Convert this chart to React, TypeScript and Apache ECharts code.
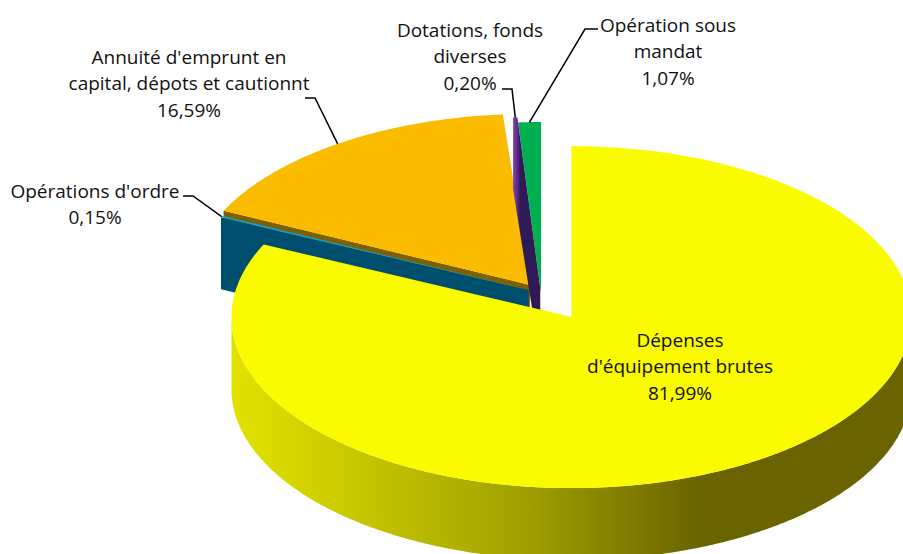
import React, { useEffect, useRef } from "react";
import * as echarts from "echarts";

// Data
const categories = [
  "Dépenses\nd'équipement brutes",
  "Opérations d'ordre",
  "Annuité d'emprunt en\ncapital, dépots et cautionnt",
  "Dotations, fonds\ndiverses",
  "Opération sous\nmandat",
];
const shares = [81.99, 0.15, 16.59, 0.2, 1.07];

// Styling and layout, one entry per slice
const explode = [0.167, 0.04, 0.0575, 0.03, 0];
const topColors = ["#fafa00", "#00a8e0", "#fbbc00", null, "#00b050"];
const labelCenters = [
  [680, 366],
  [95, 204],
  [189, 83],
  [470, 56],
  [668, 51],
];
const leaderStarts = [
  null,
  [[183, 196], [193, 196]],
  [[305, 98], [315, 98]],
  [[502, 89], [512, 89]],
  [[598, 29], [585, 29]],
];

const CX = 541;
const CY = 293;
const RX = 340;
const RY = 171;
const DEPTH = 72;
const FONT = "'Open Sans', Lato, sans-serif";
const FONT_SIZE = 19;
const LINE_HEIGHT = 26.5;

const rad = (d: number) => (d * Math.PI) / 180;

function renderSlice(params: any, api: any) {
  const i = params.dataIndex;
  const total = shares.reduce((a, b) => a + b, 0);
  const before = shares.slice(0, i).reduce((a, b) => a + b, 0);
  const start = (before / total) * 360;
  const end = start + (api.value(0) / total) * 360;
  const mid = (start + end) / 2;
  const cx = CX + Math.sin(rad(mid)) * explode[i] * RX;
  const cy = CY - Math.cos(rad(mid)) * explode[i] * RY;
  const rim = (a: number, dy = 0) => [cx + RX * Math.sin(rad(a)), cy - RY * Math.cos(rad(a)) + dy];
  const arc = (a: number, b: number, dy = 0) => {
    const pts: number[][] = [];
    const n = Math.max(2, Math.ceil(Math.abs(b - a) * 2));
    for (let k = 0; k <= n; k++) pts.push(rim(a + ((b - a) * k) / n, dy));
    return pts;
  };
  const top = [[cx, cy], ...arc(start, end)];
  const children: any[] = [];
  const poly = (points: number[][], fill: any, z2: number) =>
    children.push({ type: "polygon", shape: { points }, style: { fill }, z2 });

  if (i === 0) {
    // outer wall, front half of the rim
    const wall = [...arc(90, 270), ...arc(270, 90, DEPTH)];
    poly(
      wall,
      new echarts.graphic.LinearGradient(0, 0, 1, 0, [
        { offset: 0, color: "#e2e200" },
        { offset: 0.18, color: "#c8c800" },
        { offset: 0.43, color: "#a0a000" },
        { offset: 0.69, color: "#696400" },
        { offset: 1, color: "#696400" },
      ]),
      50
    );
    poly(top, topColors[i], 51);
  } else if (i === 1) {
    const a = rim(start);
    poly([a, [cx, cy], [cx, cy + DEPTH], [a[0], a[1] + DEPTH]], "#004e6e", 20);
    poly(top, topColors[i], 21);
  } else if (i === 2) {
    const a = rim(start);
    poly([a, [cx, cy], [cx, cy + DEPTH], [a[0], a[1] + DEPTH]], "#7f6000", 10);
    poly(top, topColors[i], 22);
  } else if (i === 3) {
    // sliver and its cut face share one lit shape
    const a = rim(start);
    poly(
      [rim(end), [cx, cy], [cx, cy + DEPTH], [a[0], a[1] + DEPTH], a],
      new echarts.graphic.LinearGradient(0, 0, 1, 0, [
        { offset: 0, color: "#7a3cad" },
        { offset: 0.1, color: "#7030a0" },
        { offset: 0.26, color: "#2f1a56" },
        { offset: 1, color: "#2f1a56" },
      ]),
      31
    );
  } else {
    poly(top, topColors[i], 30);
  }

  // label
  const label = categories[i] + "\n" + shares[i].toFixed(2).replace(".", ",") + "%";
  children.push({
    type: "text",
    x: labelCenters[i][0],
    y: labelCenters[i][1],
    z2: 80,
    style: {
      text: label,
      fill: "#111111",
      font: `${FONT_SIZE}px ${FONT}`,
      lineHeight: LINE_HEIGHT,
      align: "center",
      verticalAlign: "middle",
    },
  });

  // leader line towards the middle of the slice's rim
  const lead = leaderStarts[i];
  if (lead) {
    children.push({
      type: "polyline",
      shape: { points: [...lead, rim(mid)] },
      style: { stroke: "#000000", lineWidth: 1.5, fill: "none" },
      z2: 70,
    });
  }
  return { type: "group", children };
}

export default function App() {
  const ref = useRef<HTMLDivElement>(null);
  useEffect(() => {
    document.body.style.margin = "0";
    const chart = echarts.init(ref.current!, null, { renderer: "svg" });
    chart.setOption({
      animation: false,
      backgroundColor: "#ffffff",
      series: [
        {
          type: "custom",
          coordinateSystem: "none",
          clip: false,
          silent: true,
          data: shares.map((v, i) => ({ name: categories[i], value: [v] })),
          renderItem: renderSlice,
        },
      ],
    });
    return () => chart.dispose();
  }, []);
  return <div ref={ref} style={{ width: 903, height: 554 }} />;
}
